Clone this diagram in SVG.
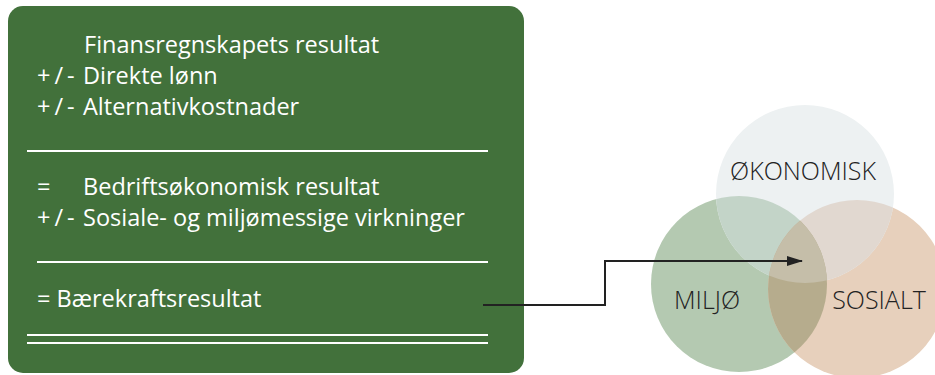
<svg xmlns="http://www.w3.org/2000/svg" width="935" height="375" viewBox="0 0 935 375">
<style>
.t{font-family:"Open Sans","Liberation Sans",sans-serif;font-size:23.5px;fill:#ffffff}
.pm{letter-spacing:4px}
.v{font-family:"Open Sans","Liberation Sans",sans-serif;font-size:25px;font-weight:300;fill:#222222;text-anchor:middle}
.rule{stroke:#ffffff;stroke-width:2}
.conn{fill:none;stroke:#222222;stroke-width:2}
</style>
<defs>
<marker id="ah" markerWidth="16" markerHeight="10" refX="15" refY="5" orient="auto" markerUnits="userSpaceOnUse" viewBox="0 0 16 10">
<path d="M0,0 L16,5 L0,10 Z" fill="#222222"/>
</marker>
<clipPath id="cM"><circle cx="739" cy="284" r="88"/></clipPath>
<clipPath id="cS"><circle cx="857" cy="289" r="89"/></clipPath>
</defs>
<g id="result-box">
<rect x="8" y="6" width="516" height="367" rx="15" fill="#42713b"/>
<text class="t" x="84" y="53">Finansregnskapets resultat</text>
<text class="t" x="37" y="84"><tspan class="pm">+/-</tspan><tspan x="83">Direkte lønn</tspan></text>
<text class="t" x="37" y="115"><tspan class="pm">+/-</tspan><tspan x="83">Alternativkostnader</tspan></text>
<line class="rule" x1="27" y1="151" x2="488" y2="151"/>
<text class="t" x="37" y="195">=<tspan x="83">Bedriftsøkonomisk resultat</tspan></text>
<text class="t" x="37" y="226"><tspan class="pm">+/-</tspan><tspan x="83">Sosiale- og miljømessige virkninger</tspan></text>
<line class="rule" x1="37" y1="262" x2="488" y2="262"/>
<text class="t" x="37" y="307">= Bærekraftsresultat</text>
<line class="rule" x1="27" y1="335" x2="488" y2="335"/>
<line class="rule" x1="27" y1="343" x2="488" y2="343"/>
</g>
<g id="venn">
<g id="miljo"><circle cx="739" cy="284" r="88" fill="#b4c9b1"/></g>
<g id="sosialt"><circle cx="857" cy="289" r="89" fill="#e7d0bc"/></g>
<g id="okonomisk"><circle cx="805" cy="194" r="89" fill="#edf1f2"/></g>
<circle cx="805" cy="194" r="89" fill="#c3d4c8" clip-path="url(#cM)"/>
<circle cx="805" cy="194" r="89" fill="#e1d8d0" clip-path="url(#cS)"/>
<circle cx="857" cy="289" r="89" fill="#b6ac8d" clip-path="url(#cM)"/>
<g clip-path="url(#cM)"><circle cx="805" cy="194" r="89" fill="#c5bea9" clip-path="url(#cS)"/></g>
<text class="v" x="803" y="180">ØKONOMISK</text>
<text class="v" x="707" y="309">MILJØ</text>
<text class="v" x="879" y="309">SOSIALT</text>
</g>
<g id="connectors">
<path class="conn" d="M483,305 H605 V261 H802" marker-end="url(#ah)"/>
</g>
</svg>
